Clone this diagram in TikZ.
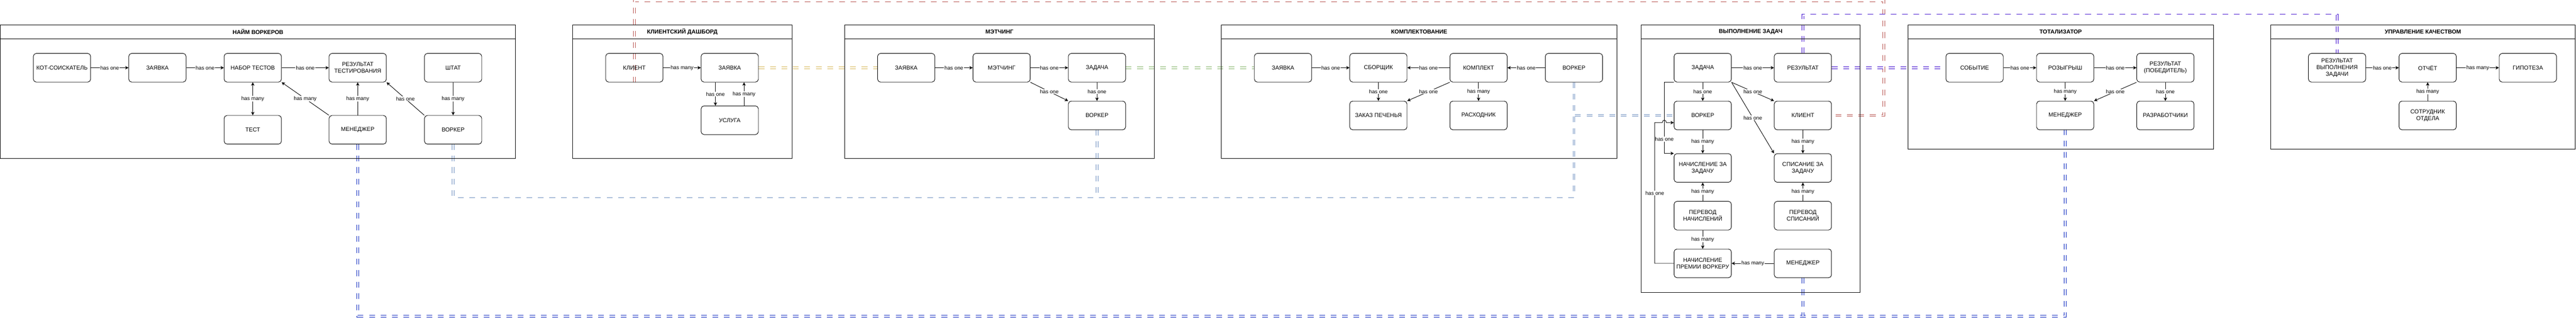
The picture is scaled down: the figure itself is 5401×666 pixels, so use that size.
\documentclass[tikz,border=0pt]{standalone}
\usepackage{fontspec}
\setmainfont{Liberation Sans}
\usetikzlibrary{arrows.meta,calc}
\definecolor{lkred}{HTML}{B85450}
\definecolor{lkyellow}{HTML}{D6B656}
\definecolor{lkgreen}{HTML}{82B366}
\definecolor{lklblue}{HTML}{6C8EBF}
\definecolor{lkdblue}{HTML}{001DBC}
\definecolor{lkviolet}{HTML}{3700CC}
\pgfdeclarelayer{bg}
\pgfsetlayers{bg,main}
\tikzset{
  ent/.style={draw, line width=1pt, rounded corners=6pt, minimum width=120pt, minimum height=60pt, inner sep=1pt, align=center, font=\fontsize{12pt}{14pt}\selectfont},
  panel/.style={draw, line width=1pt, inner sep=0pt, anchor=north west},
  ptitle/.style={inner sep=0pt, font=\fontsize{12pt}{14pt}\selectfont\bfseries},
  hdr/.style={line width=1pt},
  rel/.style={draw, line width=1pt, -{Stealth[length=7pt,width=7pt,inset=2pt]}},
  relb/.style={draw, line width=1pt, {Stealth[length=7pt,width=7pt,inset=2pt]}-{Stealth[length=7pt,width=7pt,inset=2pt]}},
  lbl/.style={fill=white, inner sep=1pt, font=\fontsize{11pt}{13pt}\selectfont},
  lnk/.style={draw=#1, line width=1pt, double=white, double distance=3pt, dash pattern=on 12pt off 12pt},
}
\begin{document}
\begin{tikzpicture}[x=1pt,y=-1pt]
\useasboundingbox (0,0) rectangle (5401,666);

% ---------- panels ----------
\node[panel, minimum width=1080pt, minimum height=280pt] (p1) at (0.5,52) {};
\draw[hdr] ([yshift=-30pt]p1.north west) -- ([yshift=-30pt]p1.north east);
\node[ptitle] (p1t) at ([yshift=-15pt]p1.north) {НАЙМ ВОРКЕРОВ};

\node[panel, minimum width=460pt, minimum height=280pt] (p2) at (1200,52) {};
\draw[hdr] ([yshift=-30pt]p2.north west) -- ([yshift=-30pt]p2.north east);
\node[ptitle] (p2t) at ([yshift=-15pt]p2.north) {КЛИЕНТСКИЙ ДАШБОРД};

\node[panel, minimum width=650pt, minimum height=280pt] (p3) at (1770,52) {};
\draw[hdr] ([yshift=-30pt]p3.north west) -- ([yshift=-30pt]p3.north east);
\node[ptitle] (p3t) at ([yshift=-15pt]p3.north) {МЭТЧИНГ};

\node[panel, minimum width=830pt, minimum height=280pt] (p4) at (2560,52) {};
\draw[hdr] ([yshift=-30pt]p4.north west) -- ([yshift=-30pt]p4.north east);
\node[ptitle] (p4t) at ([yshift=-15pt]p4.north) {КОМПЛЕКТОВАНИЕ};

\node[panel, minimum width=460pt, minimum height=560pt] (p5) at (3440,52) {};
\draw[hdr] ([yshift=-30pt]p5.north west) -- ([yshift=-30pt]p5.north east);
\node[ptitle] (p5t) at ([yshift=-15pt]p5.north) {ВЫПОЛНЕНИЕ ЗАДАЧ};

\node[panel, minimum width=640pt, minimum height=260pt] (p6) at (4000,52) {};
\draw[hdr] ([yshift=-30pt]p6.north west) -- ([yshift=-30pt]p6.north east);
\node[ptitle] (p6t) at ([yshift=-15pt]p6.north) {ТОТАЛИЗАТОР};

\node[panel, minimum width=639pt, minimum height=260pt] (p7) at (4760,52) {};
\draw[hdr] ([yshift=-30pt]p7.north west) -- ([yshift=-30pt]p7.north east);
\node[ptitle] (p7t) at ([yshift=-15pt]p7.north) {УПРАВЛЕНИЕ КАЧЕСТВОМ};

% ---------- entities ----------
\node[ent] (a1) at (130,142) {КОТ-СОИСКАТЕЛЬ};
\node[ent] (a2) at (330,142) {ЗАЯВКА};
\node[ent] (a3) at (530,142) {НАБОР ТЕСТОВ};
\node[ent] (a4) at (750,142) {РЕЗУЛЬТАТ\\ТЕСТИРОВАНИЯ};
\node[ent] (a5) at (950,142) {ШТАТ};
\node[ent] (a6) at (530,272) {ТЕСТ};
\node[ent] (a7) at (750,272) {МЕНЕДЖЕР};
\node[ent] (a8) at (950,272) {ВОРКЕР};

\node[ent] (b1) at (1330,142) {КЛИЕНТ};
\node[ent] (b2) at (1530,142) {ЗАЯВКА};
\node[ent] (b3) at (1530,252) {УСЛУГА};

\node[ent] (c1) at (1900,142) {ЗАЯВКА};
\node[ent] (c2) at (2100,142) {МЭТЧИНГ};
\node[ent] (c3) at (2300,142) {ЗАДАЧА};
\node[ent] (c4) at (2300,242) {ВОРКЕР};

\node[ent] (d1) at (2690,142) {ЗАЯВКА};
\node[ent] (d2) at (2890,142) {СБОРЩИК};
\node[ent] (d3) at (3100,142) {КОМПЛЕКТ};
\node[ent] (d4) at (3300,142) {ВОРКЕР};
\node[ent] (d5) at (2890,242) {ЗАКАЗ ПЕЧЕНЬЯ};
\node[ent] (d6) at (3100,242) {РАСХОДНИК};

\node[ent] (e1) at (3570,142) {ЗАДАЧА};
\node[ent] (e2) at (3780,142) {РЕЗУЛЬТАТ};
\node[ent] (e3) at (3570,242) {ВОРКЕР};
\node[ent] (e4) at (3780,242) {КЛИЕНТ};
\node[ent] (e5) at (3570,352) {НАЧИСЛЕНИЕ ЗА\\ЗАДАЧУ};
\node[ent] (e6) at (3780,352) {СПИСАНИЕ ЗА\\ЗАДАЧУ};
\node[ent] (e7) at (3570,452) {ПЕРЕВОД\\НАЧИСЛЕНИЙ};
\node[ent] (e8) at (3780,452) {ПЕРЕВОД\\СПИСАНИЙ};
\node[ent] (e9) at (3570,552) {НАЧИСЛЕНИЕ\\ПРЕМИИ ВОРКЕРУ};
\node[ent] (e10) at (3780,552) {МЕНЕДЖЕР};

\node[ent] (f1) at (4140,142) {СОБЫТИЕ};
\node[ent] (f2) at (4330,142) {РОЗЫГРЫШ};
\node[ent] (f3) at (4540,142) {РЕЗУЛЬТАТ\\(ПОБЕДИТЕЛЬ)};
\node[ent] (f4) at (4330,242) {МЕНЕДЖЕР};
\node[ent] (f5) at (4540,242) {РАЗРАБОТЧИКИ};

\node[ent] (g1) at (4900,142) {РЕЗУЛЬТАТ\\ВЫПОЛНЕНИЯ\\ЗАДАЧИ};
\node[ent] (g2) at (5090,142) {ОТЧЁТ};
\node[ent] (g3) at (5300,142) {ГИПОТЕЗА};
\node[ent] (g4) at (5090,242) {СОТРУДНИК\\ОТДЕЛА};

% ---------- relations inside panels ----------
\draw[rel] (a1) -- node[lbl]{has one} (a2);
\draw[rel] (a2) -- node[lbl]{has one} (a3);
\draw[relb] (a3) -- node[lbl]{has many} (a6);
\draw[rel] (a3) -- node[lbl]{has one} (a4);
\draw[rel] (a7.north west) -- node[lbl]{has many} (a3.south east);
\draw[rel] (a7) -- node[lbl]{has many} (a4);
\draw[rel] (a8.north west) -- node[lbl]{has one} (a4.south east);
\draw[rel] (a5) -- node[lbl]{has many} (a8);

\draw[rel] (b1) -- node[lbl]{has many} (b2);
\draw[rel] ([xshift=-30pt]b2.south) -- node[lbl]{has one} ([xshift=-30pt]b3.north);
\draw[rel] ([xshift=30pt]b3.north) -- node[lbl]{has many} ([xshift=30pt]b2.south);

\draw[rel] (c1) -- node[lbl]{has one} (c2);
\draw[rel] (c2) -- node[lbl]{has one} (c3);
\draw[rel] (c2.south east) -- node[lbl]{has one} (c4.north west);
\draw[rel] (c3) -- node[lbl]{has one} (c4);

\draw[rel] (d1) -- node[lbl]{has one} (d2);
\draw[rel] (d3) -- node[lbl]{has one} (d2);
\draw[rel] (d4) -- node[lbl]{has one} (d3);
\draw[rel] (d2) -- node[lbl]{has one} (d5);
\draw[rel] (d3.south west) -- node[lbl]{has one} (d5.north east);
\draw[rel] (d3) -- node[lbl]{has many} (d6);

\draw[rel] (e1) -- node[lbl]{has one} (e2);
\draw[rel] (e1) -- node[lbl]{has one} (e3);
\draw[rel] (e1.south east) -- node[lbl]{has one} (e4.north west);
\draw[rel] (e1.south east) -- node[lbl]{has one} (e6.north west);
\draw[rel] (e1.south west) -- ++(-20,0) coordinate (j1) -- (j1 |- e5.north west) node[lbl,pos=0.8]{has one} -- (e5.north west);
\draw[rel] (e3) -- node[lbl]{has many} (e5);
\draw[rel] (e7) -- node[lbl]{has many} (e5);
\draw[rel] (e7) -- node[lbl]{has many} (e9);
\draw[rel] (e10) -- node[lbl]{has many} (e9);
\draw[rel] (e4) -- node[lbl]{has many} (e6);
\draw[rel] (e8) -- node[lbl]{has many} (e6);
\coordinate (e3in) at ([yshift=-15pt]e3.west);
\coordinate (jmp) at (j1 |- e3in);
\draw[rel] (e9.west) -- ++(-40,0) coordinate (j2) -- (j2 |- e3in) node[lbl,pos=0.5]{has one}
  -- ([xshift=-4pt]jmp) .. controls ([xshift=-4pt,yshift=7pt]jmp) and ([xshift=4pt,yshift=7pt]jmp) .. ([xshift=4pt]jmp) -- (e3in);

\draw[rel] (f1) -- node[lbl]{has one} (f2);
\draw[rel] (f2) -- node[lbl]{has one} (f3);
\draw[rel] (f2) -- node[lbl]{has many} (f4);
\draw[rel] (f3.south west) -- node[lbl]{has one} (f4.north east);
\draw[rel] (f3) -- node[lbl]{has one} (f5);

\draw[rel] (g1) -- node[lbl]{has one} (g2);
\draw[rel] (g2) -- node[lbl]{has many} (g3);
\draw[rel] (g4) -- node[lbl]{has many} (g2);

% ---------- cross-context links ----------
\begin{pgfonlayer}{bg}
\draw[lnk=lkred] (b1.south) |- (3950,2) |- (e4.east);
\draw[lnk=lkyellow] (b2.east) -- (c1.west);
\draw[lnk=lkgreen] (c3.east) -- (d1.west);
\draw[lnk=lklblue] (a8.south) -- ++(0,110) -| (d4.south);
\draw[lnk=lklblue] (c4.south) -- ++(0,140);
\draw[lnk=lklblue] (d4.south) |- (e3.west);
\draw[lnk=lkdblue] (a7.south) -- ++(0,360) -| (f4.south);
\draw[lnk=lkdblue] (e10.south) -- ++(0,80);
\draw[lnk=lkviolet] (e2.north) -- ++(0,-80) -| (g1.north);
\draw[lnk=lkviolet] (e2.east) -- (f1.west);
\end{pgfonlayer}
\end{tikzpicture}
\end{document}
